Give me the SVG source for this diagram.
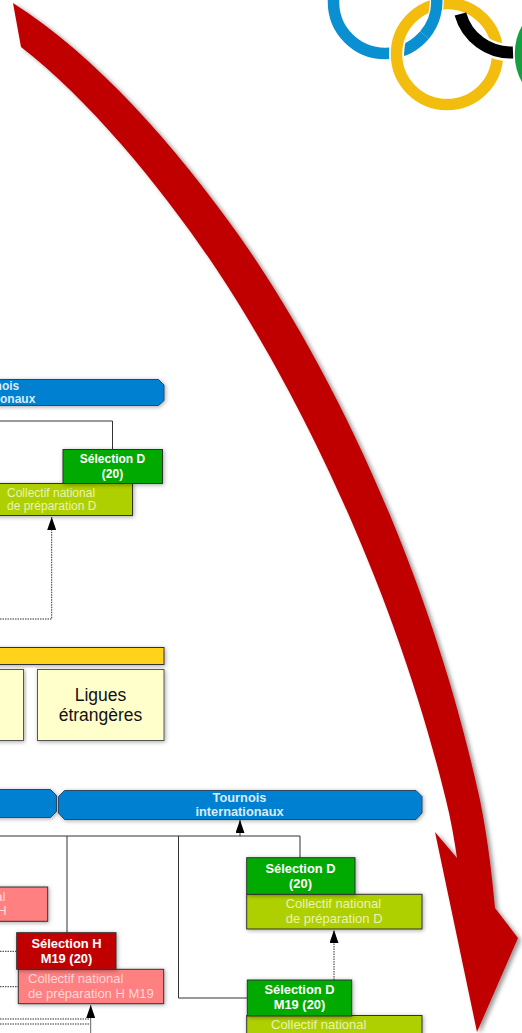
<svg xmlns="http://www.w3.org/2000/svg" width="522" height="1033" viewBox="0 0 522 1033">
<style>
text{font-family:"Liberation Sans",Arial,sans-serif}
.box{stroke:#333;stroke-width:1;filter:url(#s)}
.blue{fill:#0080d0;stroke:#2a4a66}
.green{fill:#00aa00}
.lime{fill:#afd000}
.red{fill:#c00000}
.pink{fill:#ff8080}
.pale{fill:#ffffcc;stroke:#555}
.t{font-weight:bold;fill:#fff;text-anchor:middle}
.tb{font-weight:bold;fill:#d8ecfa;text-anchor:middle}
.c{fill:#eaf2b8}
.p{fill:#ffd8d8}
.line{fill:none;stroke:#333;stroke-width:1}
.dot{fill:none;stroke:#333;stroke-width:1;stroke-dasharray:1.5 1}
.ring{fill:none;stroke-width:11.5}
.halo{fill:none;stroke:#fff;stroke-width:14}
</style>
<defs>
<filter id="s" x="-10%" y="-10%" width="120%" height="130%"><feDropShadow dx="1" dy="1" stdDev="0.6" flood-color="#000" flood-opacity="0.35"/></filter>
<filter id="as" x="-10%" y="-10%" width="120%" height="120%"><feDropShadow dx="3" dy="2" stdDev="2" flood-color="#000" flood-opacity="0.4"/></filter>
<marker id="h" markerWidth="13" markerHeight="9" refX="13" refY="4.5" orient="auto" markerUnits="userSpaceOnUse" viewBox="0 0 13 9"><path d="M0,0L13,4.5L0,9z" fill="#000"/></marker>
</defs>

<g id="olympic-rings">
<circle class="ring" cx="385" cy="2" r="51.500" stroke="#0a8fd0"/>
<circle class="halo" cx="447" cy="54" r="50.500" style="stroke-width:15"/>
<circle class="ring" cx="447" cy="54" r="50.500" stroke="#f2bd0d"/>
<path class="halo" d="M424.500,35A51.500,51.500 0 0 0 436,-7"/>
<path class="ring" d="M424.500,35A51.500,51.500 0 0 0 436,-7" stroke="#0a8fd0"/>
<path d="M482,43.800A52.500,52.500 0 0 0 513,52.500" fill="none" stroke="#fff" stroke-width="17"/>
<path d="M460.400,14A52.500,52.500 0 0 0 513,52.500" fill="none" stroke="#000" stroke-width="12"/>
<circle class="ring" cx="572" cy="54" r="51.500" stroke="#14a040"/>
</g>

<g id="connectors">
<path class="line" d="M112.500,449V421H0"/>
<path class="dot" d="M0,619H51.700V517" marker-end="url(#h)"/>
<path class="line" d="M0,836H300V858"/>
<path class="line" d="M240,836V820" marker-end="url(#h)"/>
<path class="line" d="M67,836V933"/>
<path class="line" d="M178.500,836V998H247"/>
<path class="dot" d="M334,980V930" marker-end="url(#h)"/>
<path class="dot" d="M0,951.300H17"/>
<path class="dot" d="M0,986.700H18"/>
<path class="dot" d="M0,1019H90.500"/>
<path class="dot" d="M0,1024H90.500"/>
<path d="M90.700,1033V1005" fill="none" stroke="#666" stroke-width="1" marker-end="url(#h)"/>
</g>

<g id="tournois-top">
<path class="box blue" d="M-10,379.500H158.500L164,385V400.500L158.500,405.500H-10z"/>
<text class="tb" x="-6" y="390" font-size="12">Tournois</text>
<text class="tb" x="-6" y="403" font-size="12">internationaux</text>
</g>
<g id="collectif-d-top">
<rect class="box lime" x="-10" y="483.500" width="142.500" height="32"/>
<text class="c" x="7" y="497" font-size="12">Collectif national</text>
<text class="c" x="7" y="510" font-size="12">de préparation D</text>
</g>
<g id="selection-d-top">
<rect class="box green" x="63" y="449.500" width="99.500" height="34"/>
<text class="t" x="112.500" y="463" font-size="12">Sélection D</text>
<text class="t" x="112.500" y="478" font-size="12">(20)</text>
</g>
<g id="bar">
<rect class="box" fill="#ffd21f" x="-10" y="647.500" width="174" height="17"/>
</g>
<g id="ligue-left">
<rect class="box pale" x="-10" y="669.500" width="33.500" height="71"/>
</g>
<g id="ligues-etrangeres">
<rect class="box pale" x="37.500" y="669.500" width="126.500" height="71"/>
<text x="100.500" y="701" font-size="17.500" fill="#111" text-anchor="middle">Ligues</text>
<text x="100.500" y="720.500" font-size="17.500" fill="#111" text-anchor="middle">étrangères</text>
</g>
<g id="blue-left">
<path class="box blue" d="M-10,789.500H50.500L56.500,795.500V811.500L50.500,817.500H-10z"/>
</g>
<g id="tournois-bottom">
<path class="box blue" d="M64.500,790.500H416L422,796.500V813L416,819.500H64.500L58.500,813V796.500z"/>
<text class="tb" x="239.500" y="802" font-size="12.800">Tournois</text>
<text class="tb" x="239.500" y="816" font-size="12.800">internationaux</text>
</g>
<g id="collectif-d">
<rect class="box lime" x="246.700" y="894.300" width="175.300" height="34.700"/>
<text class="c" x="285.700" y="908" font-size="13">Collectif national</text>
<text class="c" x="285.700" y="922.700" font-size="13">de préparation D</text>
</g>
<g id="selection-d">
<rect class="box green" x="246.700" y="857.700" width="108.300" height="36.600"/>
<text class="t" x="300.500" y="873" font-size="12.900">Sélection D</text>
<text class="t" x="300.500" y="888" font-size="12.900">(20)</text>
</g>
<g id="collectif-d-m19">
<rect class="box lime" x="246.700" y="1015.500" width="175.300" height="34"/>
<text class="c" x="271" y="1029" font-size="13">Collectif national</text>
</g>
<g id="selection-d-m19">
<rect class="box green" x="247.300" y="980" width="104.400" height="36"/>
<text class="t" x="299.500" y="994" font-size="12.900">Sélection D</text>
<text class="t" x="299.500" y="1009" font-size="12.900">M19 (20)</text>
</g>
<g id="collectif-h">
<rect class="box pink" x="-10" y="887" width="57.700" height="34.300"/>
<text class="p" x="5.300" y="901" font-size="13" text-anchor="end">Collectif national</text>
<text class="p" x="6.700" y="915" font-size="13" text-anchor="end">de préparation H</text>
</g>
<g id="collectif-h-m19">
<rect class="box pink" x="18.300" y="969.300" width="145.400" height="34.400"/>
<text class="p" x="28" y="983" font-size="13">Collectif national</text>
<text class="p" x="28" y="997.700" font-size="13">de préparation H M19</text>
</g>
<g id="selection-h-m19">
<rect class="box red" x="16.700" y="932.700" width="99.300" height="36.600"/>
<text class="t" x="66.500" y="947.700" font-size="12.900">Sélection H</text>
<text class="t" x="66.500" y="963" font-size="12.900">M19 (20)</text>
</g>

<g id="red-arrow">
<path filter="url(#as)" fill="#c00000" d="M13,3C95,55 175,145 240,237C330,365 430,570 480,800C488,840 492,875 495,908L518,938L477,1032L435,832L457,858C454,838 451,820 446,800C395,590 300,395 217,270C165,192 90,100 21,47z"/>
</g>
</svg>
